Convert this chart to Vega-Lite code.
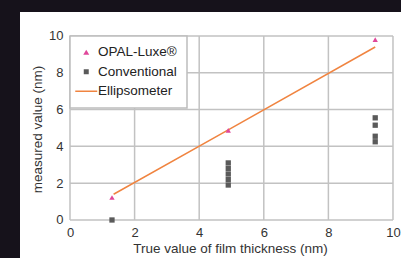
{
  "$schema": "https://vega.github.io/schema/vega-lite/v6.json",
  "width": 401,
  "height": 258,
  "autosize": {"type": "fit", "contains": "padding"},
  "padding": {"left": 20, "top": 12, "right": 0, "bottom": 0},
  "background": "#16121b",
  "config": {
    "view": {"fill": "white", "stroke": null},
    "font": "Liberation Sans",
    "axisX": {
      "offset": -38, "domain": false, "ticks": false, "grid": false,
      "labelFontSize": 13, "labelColor": "#333333",
      "labelPadding": 6, "labelFlush": false, "labelOverlap": false, "labelBound": false,
      "titleFontSize": 13.5, "titleFontWeight": "normal", "titleColor": "#333333",
      "titleX": 210, "titleY": 21, "titleBaseline": "top", "titleAlign": "center"
    },
    "axisY": {
      "offset": -50, "domain": false, "ticks": false, "grid": false,
      "labelFontSize": 13, "labelColor": "#333333",
      "labelPadding": 7, "labelFlush": false, "labelOverlap": false, "labelBound": false,
      "titleFontSize": 13.5, "titleFontWeight": "normal", "titleColor": "#333333",
      "titleX": -33, "titleY": 117, "titleBaseline": "middle", "titleAlign": "center", "titleAngle": -90
    }
  },
  "datasets": {
    "grid": [{"v": 0}, {"v": 2}, {"v": 4}, {"v": 6}, {"v": 8}, {"v": 10}],
    "points": [
      {"series": "OPAL-Luxe®", "x": 1.3, "y": 1.22},
      {"series": "OPAL-Luxe®", "x": 4.9, "y": 4.87},
      {"series": "OPAL-Luxe®", "x": 9.45, "y": 9.8},
      {"series": "Conventional", "x": 1.3, "y": 0},
      {"series": "Conventional", "x": 4.9, "y": 3.1},
      {"series": "Conventional", "x": 4.9, "y": 2.8},
      {"series": "Conventional", "x": 4.9, "y": 2.5},
      {"series": "Conventional", "x": 4.9, "y": 2.2},
      {"series": "Conventional", "x": 4.9, "y": 1.9},
      {"series": "Conventional", "x": 9.45, "y": 5.55},
      {"series": "Conventional", "x": 9.45, "y": 5.15},
      {"series": "Conventional", "x": 9.45, "y": 4.55},
      {"series": "Conventional", "x": 9.45, "y": 4.25}
    ],
    "line": [
      {"series": "Ellipsometer", "x": 1.35, "y": 1.4},
      {"series": "Ellipsometer", "x": 4.9, "y": 4.9},
      {"series": "Ellipsometer", "x": 9.45, "y": 9.4}
    ]
  },
  "layer": [
    {
      "data": {"name": "grid"},
      "mark": {"type": "rule", "color": "#c2c2c2", "strokeWidth": 1.5},
      "encoding": {
        "x": {"field": "v", "type": "quantitative", "title": "True value of film thickness (nm)",
              "axis": {"values": [0, 2, 4, 6, 8, 10]},
              "scale": {"domain": [-1.548, 10.248], "nice": false, "zero": false}},
        "y": {"datum": 0, "type": "quantitative", "title": "measured value (nm)",
              "axis": {"values": [0, 2, 4, 6, 8, 10]},
              "scale": {"domain": [-2.065, 11.3], "nice": false, "zero": false}},
        "y2": {"datum": 10}
      }
    },
    {
      "data": {"name": "grid"},
      "mark": {"type": "rule", "color": "#c2c2c2", "strokeWidth": 1.5},
      "encoding": {
        "y": {"field": "v", "type": "quantitative", "title": "measured value (nm)",
              "axis": {"values": [0, 2, 4, 6, 8, 10]},
              "scale": {"domain": [-2.065, 11.3], "nice": false, "zero": false}},
        "x": {"datum": 0, "type": "quantitative", "title": "True value of film thickness (nm)",
              "axis": {"values": [0, 2, 4, 6, 8, 10]},
              "scale": {"domain": [-1.548, 10.248], "nice": false, "zero": false}},
        "x2": {"datum": 10}
      }
    },
    {
      "data": {"name": "line"},
      "mark": {"type": "line", "strokeWidth": 1.5},
      "encoding": {
        "x": {"field": "x", "type": "quantitative", "title": "True value of film thickness (nm)",
              "axis": {"values": [0, 2, 4, 6, 8, 10]},
              "scale": {"domain": [-1.548, 10.248], "nice": false, "zero": false}},
        "y": {"field": "y", "type": "quantitative", "title": "measured value (nm)",
              "axis": {"values": [0, 2, 4, 6, 8, 10]},
              "scale": {"domain": [-2.065, 11.3], "nice": false, "zero": false}},
        "color": {"field": "series", "type": "nominal", "title": null,
                  "scale": {"domain": ["OPAL-Luxe®", "Conventional", "Ellipsometer"], "range": ["#e0479a", "#5a5a5a", "#f08440"]}}
      }
    },
    {
      "data": {"name": "points"},
      "mark": {"type": "point", "filled": true, "opacity": 1},
      "encoding": {
        "x": {"field": "x", "type": "quantitative", "title": "True value of film thickness (nm)",
              "axis": {"values": [0, 2, 4, 6, 8, 10]},
              "scale": {"domain": [-1.548, 10.248], "nice": false, "zero": false}},
        "y": {"field": "y", "type": "quantitative", "title": "measured value (nm)",
              "axis": {"values": [0, 2, 4, 6, 8, 10]},
              "scale": {"domain": [-2.065, 11.3], "nice": false, "zero": false}},
        "size": {"value": 28},
        "color": {"field": "series", "type": "nominal", "title": null,
                  "scale": {"domain": ["OPAL-Luxe®", "Conventional", "Ellipsometer"], "range": ["#e0479a", "#5a5a5a", "#f08440"]},
                  "legend": {
                    "orient": "none", "legendX": 50, "legendY": 24,
                    "fillColor": "white", "strokeColor": "#bdbdbd",
                    "padding": 9.5, "rowPadding": 4.5, "labelFontSize": 13.5, "labelColor": "#222222",
                    "labelOffset": 5, "symbolOpacity": 1,
                    "encode": {
                      "legend": {"update": {"strokeWidth": {"value": 1.5}}},
                      "symbols": {"update": {
                        "fill": {"scale": "color", "field": "value"},
                        "stroke": {"scale": "color", "field": "value"},
                        "strokeWidth": {"signal": "datum.value === 'Ellipsometer' ? 1.5 : 0"},
                        "size": {"signal": "datum.value === 'Ellipsometer' ? 484 : (datum.value === 'Conventional' ? 25 : 36)"}
                      }}
                    }
                  }},
        "shape": {"field": "series", "type": "nominal", "title": null,
                  "scale": {"domain": ["OPAL-Luxe®", "Conventional", "Ellipsometer"], "range": ["triangle-up", "square", "stroke"]}}
      }
    }
  ]
}
